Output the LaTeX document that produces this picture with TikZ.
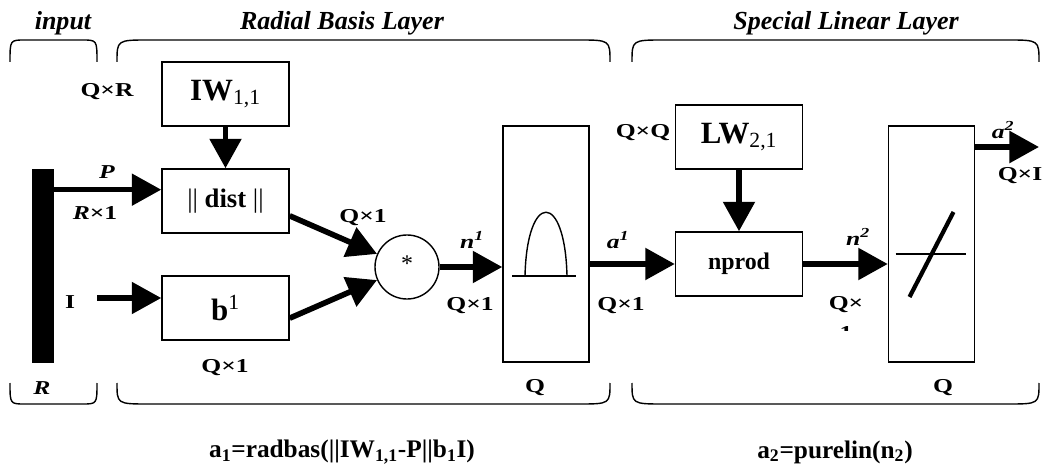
\documentclass[tikz,border=0pt]{standalone}
\usepackage{fontspec}
\setmainfont{Liberation Serif}
\newfontfamily\widefont{Liberation Serif}[FakeStretch=1.3]
\usetikzlibrary{arrows.meta, positioning}

\tikzstyle{block}      = [draw, line width=1pt, minimum width=3.175cm, minimum height=1.6cm,
                          inner sep=0pt, font=\bfseries\fontsize{22}{24}\selectfont]
\tikzstyle{tallbox}    = [draw, line width=1pt, minimum width=2.15cm, minimum height=5.9cm]
\tikzstyle{arrow}      = [line width=4pt, -{Triangle[length=21pt,width=22pt]}]
\tikzstyle{lbl}        = [inner sep=1pt, font=\widefont\bfseries\fontsize{14}{16}\selectfont]
\tikzstyle{formula}    = [inner sep=1pt, font=\bfseries\fontsize{18}{20}\selectfont]
\tikzstyle{layertitle} = [font=\bfseries\itshape\fontsize{18.5}{20}\selectfont]
\tikzstyle{brace}      = [line width=1pt]

\begin{document}
\begin{tikzpicture}[x=0.025cm, y=-0.025cm]
  \useasboundingbox (0,0) rectangle (1044,471);

  % --- Layer titles and braces ---
  \node[layertitle] (tin)  at (63,23)  {input};
  \node[layertitle] (trad) at (342,23) {Radial Basis Layer};
  \node[layertitle] (tlin) at (846,23) {Special Linear Layer};
  \foreach \xa/\xb/\rr in {10/97/15, 117/610/32, 632/1039/32} {
    \draw[brace] (\xa,62) .. controls (\xa,40) .. (\xa+\rr,40) -- (\xb-\rr,40)
                 .. controls (\xb,40) .. (\xb,62);
    \draw[brace] (\xa,383) .. controls (\xa,404) .. (\xa+\rr,404) -- (\xb-\rr,404)
                 .. controls (\xb,404) .. (\xb,383);
  }
  \node[lbl] (rdim)  at (42,388)  {\textit{R}};
  \node[lbl] (qrad)  at (535,388) {Q};
  \node[lbl] (qlin)  at (943,388) {Q};

  % --- Input ---
  \node[fill, minimum width=0.55cm, minimum height=4.85cm, inner sep=0pt] (bar) at (43,266) {};
  \coordinate (iin) at (97,298);
  \node[lbl] (ilab) at (70,302) {I};

  % --- Radial basis layer ---
  \node[block] (iw)   at (225.5,94)  {IW\textsubscript{\mdseries 1,1}};
  \node[block, font=\bfseries\fontsize{19}{21}\selectfont] (dist) at (225.5,201)
        {{\mdseries||} dist {\mdseries||}};
  \node[block] (bias) at (225.5,308) {b\textsuperscript{\mdseries 1}};
  \node[draw, circle, line width=1pt, minimum size=1.6cm, inner sep=0pt,
        font=\fontsize{17}{18}\selectfont] (mult) at (407,267) {\raisebox{5pt}{*}};
  \node[tallbox] (radbas) at (546,244) {};
  \begin{scope}[shift={(radbas.center)}, line width=1pt]
    \draw (-34,32) -- (30,32);
    \draw (-21,32) .. controls (-19,-53) and (19,-53) .. (21,32);
  \end{scope}

  % --- Special linear layer ---
  \node[block] (lw)    at (739,137) {LW\textsubscript{\mdseries 2,1}};
  \node[block, font=\bfseries\fontsize{17}{20}\selectfont] (nprod) at (739,264) {nprod};
  \node[tallbox] (purelin) at (931.5,244) {};
  \begin{scope}[shift={(purelin.center)}]
    \draw[line width=1pt] (-36,10) -- (34,10);
    \draw[line width=3pt] (-22,53) -- (22,-32);
  \end{scope}
  \coordinate (out) at (1039,147);

  % Connections
  \draw[arrow] (iw) -- (dist);
  \draw[arrow] (bar.east |- dist.170) -- (dist.170);
  \draw[arrow] (iin) -- (iin -| bias.west);
  \draw[arrow] (dist.-13) -- (mult);
  \draw[arrow] (bias.-9) -- (mult);
  \draw[arrow] (mult.east) -- (mult.east -| radbas.west);
  \draw[arrow] (radbas.east |- nprod.west) -- (nprod.west);
  \draw[arrow] (lw) -- (nprod);
  \draw[arrow] (nprod.east) -- (nprod.east -| purelin.west);
  \draw[arrow] (purelin.east |- out) -- (out);

  % Dimension labels
  \node[lbl] (qr)  at (107,92)  {Q×R};
  \node[lbl] (p)   at (107,172) {\textit{P}};
  \node[lbl] (r1)  at (95,213)  {\textit{R}×1};
  \node[lbl] (qb)  at (225,368) {Q×1};
  \node[lbl] (qd)  at (363,218) {Q×1};
  \node[lbl] (n1)  at (472,240) {\textit{n\textsuperscript{1}}};
  \node[lbl] (qn)  at (470,306) {Q×1};
  \node[lbl] (a1)  at (618,240) {\textit{a\textsuperscript{1}}};
  \node[lbl] (qa)  at (621,306) {Q×1};
  \node[lbl] (qq)  at (643,133) {Q×Q};
  \node[lbl] (n2)  at (858,237) {\textit{n\textsuperscript{2}}};
  \node[lbl] (qx)  at (846,305) {Q×};
  \begin{scope}
    \clip (826,322) rectangle (866,331);
    \node[lbl, anchor=north, inner sep=0pt] (qone) at (846,326) {1};
  \end{scope}
  \node[lbl] (a2)  at (1003,130) {\textit{a\textsuperscript{2}}};
  \node[lbl] (qi)  at (1020,176) {Q×I};

  % Transfer functions
  \node[formula] (f1) at (342,452)
        {a\textsubscript{1}=radbas(||IW\textsubscript{1,1}-P||b\textsubscript{1}I)};
  \node[formula] (f2) at (835,452)
        {a\textsubscript{2}=purelin(n\textsubscript{2})};
\end{tikzpicture}
\end{document}
